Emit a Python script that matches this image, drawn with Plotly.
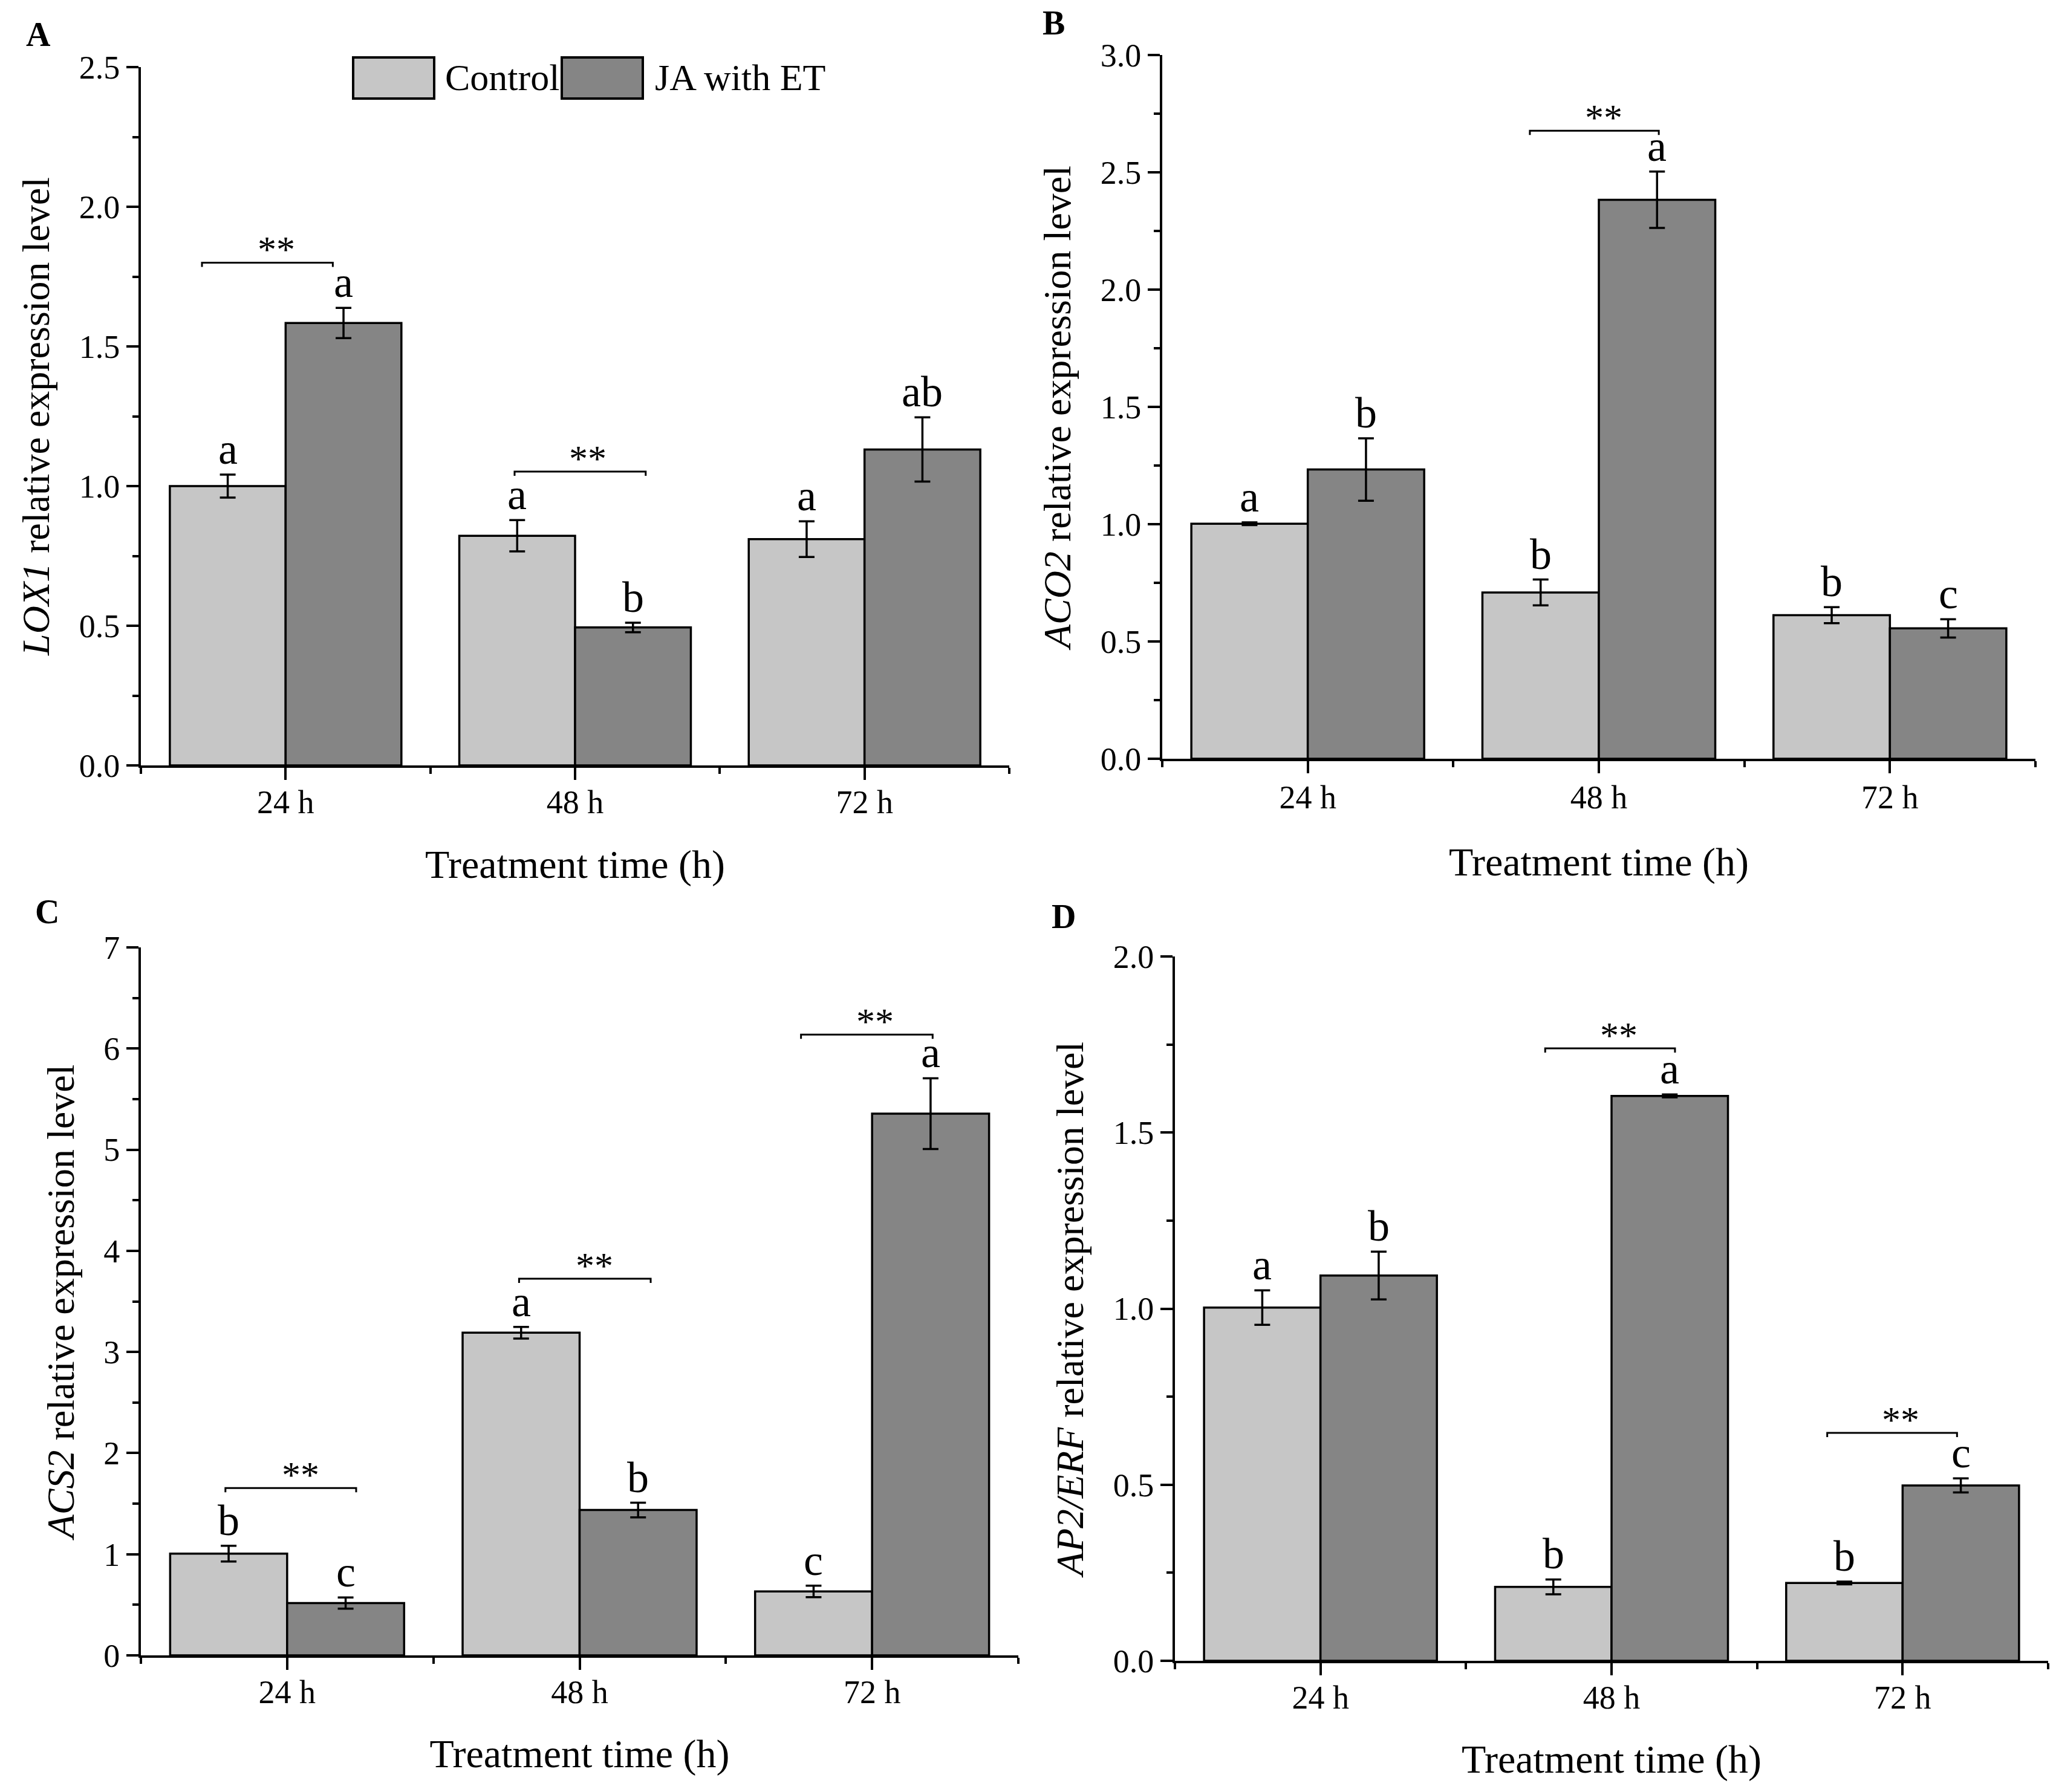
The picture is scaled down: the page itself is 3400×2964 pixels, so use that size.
import plotly.graph_objects as go

# ---------------- data ----------------
categories = ["24 h", "48 h", "72 h"]
series_names = ["Control", "JA with ET"]

A_ctrl = [1.000, 0.822, 0.810]
A_ctrl_err = [0.041, 0.056, 0.064]
A_ja = [1.584, 0.494, 1.131]
A_ja_err = [0.054, 0.017, 0.115]
A_ctrl_letters = ["a", "a", "a"]
A_ja_letters = ["a", "b", "ab"]
A_sig = [(0, -0.289, 0.163, 1.800, -0.031), (1, -0.209, 0.244, 1.052, 0.044)]

B_ctrl = [1.002, 0.709, 0.612]
B_ctrl_err = [0.006, 0.055, 0.034]
B_ja = [1.233, 2.383, 0.556]
B_ja_err = [0.133, 0.120, 0.039]
B_ctrl_letters = ["a", "b", "b"]
B_ja_letters = ["b", "a", "c"]
B_sig = [(1, -0.237, 0.206, 2.677, 0.016)]

C_ctrl = [1.006, 3.190, 0.632]
C_ctrl_err = [0.078, 0.057, 0.057]
C_ja = [0.517, 1.437, 5.356]
C_ja_err = [0.055, 0.072, 0.350]
C_ctrl_letters = ["b", "a", "c"]
C_ja_letters = ["c", "b", "a"]
C_sig = [(0, -0.211, 0.236, 1.655, 0.045), (1, -0.207, 0.243, 3.724, 0.050),
         (2, -0.243, 0.207, 6.138, 0.010)]

D_ctrl = [1.003, 0.210, 0.221]
D_ctrl_err = [0.049, 0.021, 0.004]
D_ja = [1.094, 1.604, 0.498]
D_ja_err = [0.068, 0.004, 0.020]
D_ctrl_letters = ["a", "b", "b"]
D_ja_letters = ["b", "a", "c"]
D_sig = [(1, -0.228, 0.218, 1.739, 0.025), (2, -0.259, 0.187, 0.647, -0.006)]

# ---------------- style ----------------
W, H = 3400, 2964
FONT = "Liberation Serif, Times New Roman, serif"
C_LIGHT = "#C6C6C6"
C_DARK = "#858585"


def px_x(v):
    return v / W


def px_y(v):
    return 1 - v / H


panels = [
    dict(key="", label="A", gene="LOX1", ctrl=A_ctrl, ce=A_ctrl_err, ja=A_ja, je=A_ja_err,
         cl=A_ctrl_letters, jl=A_ja_letters, sig=A_sig, ymax=2.5, dt=0.5, fmt=".1f",
         box=(233, 1669, 111, 1266), lab=(64, 57), xst=51),
    dict(key="2", label="B", gene="ACO2", ctrl=B_ctrl, ce=B_ctrl_err, ja=B_ja, je=B_ja_err,
         cl=B_ctrl_letters, jl=B_ja_letters, sig=B_sig, ymax=3.0, dt=0.5, fmt=".1f",
         box=(1922, 3366, 91, 1255), lab=(1742, 38), xst=55),
    dict(key="3", label="C", gene="ACS2", ctrl=C_ctrl, ce=C_ctrl_err, ja=C_ja, je=C_ja_err,
         cl=C_ctrl_letters, jl=C_ja_letters, sig=C_sig, ymax=7, dt=1, fmt="d",
         box=(233, 1684, 1567, 2738), lab=(78, 1508), xst=50),
    dict(key="4", label="D", gene="AP2/ERF", ctrl=D_ctrl, ce=D_ctrl_err, ja=D_ja, je=D_ja_err,
         cl=D_ctrl_letters, jl=D_ja_letters, sig=D_sig, ymax=2.0, dt=0.5, fmt=".1f",
         box=(1943, 3387, 1582, 2747), lab=(1759, 1516), xst=50),
]

fig = go.Figure()
annotations = []
shapes = []
layout = dict(
    width=W, height=H, margin=dict(l=0, r=0, t=0, b=0, pad=0, autoexpand=False),
    paper_bgcolor="white", plot_bgcolor="white",
    barmode="group", bargap=0.2, bargroupgap=0.0,
    showlegend=False,
    font=dict(family=FONT, color="black", size=54),
)

x_pos = list(range(len(categories)))

for p in panels:
    k = p["key"]
    xa, ya = "x" + k, "y" + k
    for vals, errs, col, name in [(p["ctrl"], p["ce"], C_LIGHT, series_names[0]),
                                  (p["ja"], p["je"], C_DARK, series_names[1])]:
        fig.add_trace(go.Bar(
            x=x_pos, y=vals, name=name, xaxis=xa, yaxis=ya,
            marker=dict(color=col, line=dict(color="black", width=3.5)),
            error_y=dict(type="data", array=errs, visible=True, color="black",
                         thickness=3.5, width=13),
        ))
    x0, x1, y0, y1 = p["box"]
    ph = y1 - y0
    ppu = ph / p["ymax"]  # pixels per unit
    # letters
    for i in range(len(categories)):
        for off, vals, errs, lets in [(-0.2, p["ctrl"], p["ce"], p["cl"]),
                                      (0.2, p["ja"], p["je"], p["jl"])]:
            annotations.append(dict(
                x=i + off, y=vals[i] + errs[i], xref=xa, yref=ya, text=lets[i],
                showarrow=False, yanchor="bottom", xanchor="center", yshift=0,
                font=dict(size=72, family=FONT, color="black")))
    # significance brackets
    hook = 7 / ppu
    for (ci, a, b, yv, sx) in p["sig"]:
        shapes.append(dict(
            type="path", xref=xa, yref=ya,
            path=f"M {ci + a},{yv - hook} L {ci + a},{yv} L {ci + b},{yv} L {ci + b},{yv - hook}",
            line=dict(color="black", width=3)))
        annotations.append(dict(
            x=ci + sx, y=yv, xref=xa, yref=ya, text="**", showarrow=False,
            yanchor="bottom", xanchor="center", yshift=-14,
            font=dict(size=62, family=FONT, color="black")))
    # panel label
    annotations.append(dict(
        x=px_x(p["lab"][0]), y=px_y(p["lab"][1]), xref="paper", yref="paper",
        text=f"<b>{p['label']}</b>", showarrow=False, xanchor="center", yanchor="middle",
        font=dict(size=56, family=FONT, color="black")))

    n_major = int(round(p["ymax"] / p["dt"]))
    major = [j * p["dt"] for j in range(n_major + 1)]
    minor = [(j + 0.5) * p["dt"] for j in range(n_major)]
    ticktext = [format(v, p["fmt"]) if p["fmt"] != "d" else str(int(round(v))) for v in major]

    axis_common = dict(showline=True, linewidth=4, linecolor="black", mirror=False,
                       showgrid=False, zeroline=False, ticks="outside", ticklen=20,
                       tickwidth=4, tickcolor="black", automargin=False,
                       tickfont=dict(size=54, family=FONT, color="black"))
    layout["xaxis" + k] = dict(
        domain=[px_x(x0), px_x(x1)], anchor=ya, range=[-0.5, len(categories) - 0.5],
        tickmode="array", tickvals=x_pos, ticktext=categories,
        ticklabelstandoff=-10 if k != "2" else -7,
        minor=dict(tickmode="array", tickvals=[-0.5, 0.5, 1.5, 2.5], ticks="outside",
                   ticklen=10, tickwidth=4, tickcolor="black"),
        title=dict(text="Treatment time (h)", standoff=p["xst"],
                   font=dict(size=66, family=FONT, color="black")),
        **axis_common)
    layout["yaxis" + k] = dict(
        domain=[px_y(y1), px_y(y0)], anchor=xa, range=[0, p["ymax"]],
        tickmode="array", tickvals=major, ticktext=ticktext,
        minor=dict(tickmode="array", tickvals=minor, ticks="outside",
                   ticklen=10, tickwidth=4, tickcolor="black"),
        title=dict(text=f"<i>{p['gene']}</i> relative expression level", standoff=29,
                   font=dict(size=64, family=FONT, color="black")),
        **axis_common)

# legend (drawn in panel A)
legend_items = [(series_names[0], C_LIGHT, 584, 718, 734), (series_names[1], C_DARK, 929, 1063, 1081)]
for name, col, bx0, bx1, tx in legend_items:
    shapes.append(dict(type="rect", xref="paper", yref="paper",
                       x0=px_x(bx0), x1=px_x(bx1), y0=px_y(163), y1=px_y(95),
                       fillcolor=col, line=dict(color="black", width=4)))
    annotations.append(dict(x=px_x(tx), y=px_y(128), xref="paper", yref="paper",
                            text=name, showarrow=False, xanchor="left", yanchor="middle",
                            font=dict(size=62, family=FONT, color="black")))

layout["annotations"] = annotations
layout["shapes"] = shapes
fig.update_layout(**layout)
fig.write_html("out.html")
